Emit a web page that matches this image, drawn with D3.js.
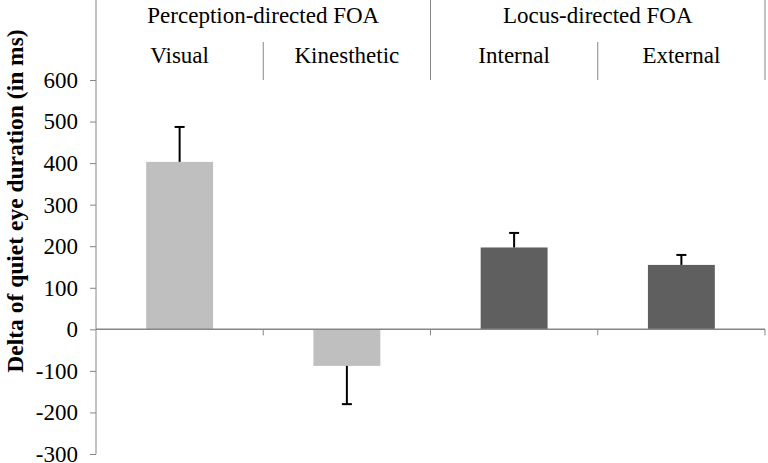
<!DOCTYPE html>
<html>
<head>
<meta charset="utf-8">
<script src="https://cdn.jsdelivr.net/npm/d3@7"></script>
<style>
  body { margin: 0; background: #fff; }
  text { font-family: "Liberation Serif", "Times New Roman", serif; fill: #000; }
</style>
</head>
<body>
<svg></svg>
<script>
// Chart data
const categories = ["Visual", "Kinesthetic", "Internal", "External"];
const groups = ["Perception-directed FOA", "Locus-directed FOA"];
const groupOf = ["Perception-directed FOA", "Perception-directed FOA", "Locus-directed FOA", "Locus-directed FOA"];
const means = [403, -88, 197, 155];
const errors = [84, 92, 35, 24];
const yTicks = [-300, -200, -100, 0, 100, 200, 300, 400, 500, 600];

const width = 768;
const height = 463;
const plot = { left: 96, right: 765, top: 80, bottom: 454 };
const axisColor = "#868686";

const svg = d3.select("svg")
  .attr("width", width)
  .attr("height", height);

// Scales
const y = d3.scaleLinear().domain([-300, 600]).range([plot.bottom, plot.top]);
const cell = d3.scaleBand().domain(categories).range([plot.left, plot.right]).padding(0);
const x = d3.scaleBand().domain(categories).range([plot.left, plot.right]).paddingInner(0.6).paddingOuter(0.3);
const g = d3.scaleBand().domain(groups).range([plot.left, plot.right]).padding(0);
const color = d3.scaleOrdinal().domain(groups).range(["#bfbfbf", "#5f5f5f"]);

// Y axis
const yAxis = svg.append("g")
  .attr("transform", `translate(${plot.left},0)`)
  .attr("font-family", "Liberation Serif")
  .call(d3.axisLeft(y).tickValues(yTicks).tickSize(6).tickPadding(12).tickFormat(d => String(d)));
yAxis.attr("font-family", "Liberation Serif").attr("font-size", 23);
yAxis.select(".domain").remove();
yAxis.selectAll("line").attr("stroke", axisColor);
svg.append("line")
  .attr("x1", plot.left).attr("x2", plot.left)
  .attr("y1", 0).attr("y2", plot.bottom)
  .attr("stroke", axisColor);

// Bars
const data = categories.map((c, i) => ({ c, m: means[i], e: errors[i], grp: groupOf[i] }));
svg.selectAll(".bar")
  .data(data)
  .enter()
  .append("rect")
  .attr("class", "bar")
  .attr("x", d => x(d.c))
  .attr("width", x.bandwidth())
  .attr("y", d => y(Math.max(0, d.m)))
  .attr("height", d => Math.abs(y(d.m) - y(0)))
  .attr("fill", d => color(d.grp));

// Error bars
const err = svg.selectAll(".err")
  .data(data)
  .enter()
  .append("g")
  .attr("class", "err")
  .attr("stroke", "#000")
  .attr("stroke-width", 2);
err.append("line")
  .attr("x1", d => x(d.c) + x.bandwidth() / 2)
  .attr("x2", d => x(d.c) + x.bandwidth() / 2)
  .attr("y1", d => y(d.m))
  .attr("y2", d => y(d.m + Math.sign(d.m) * d.e));
err.append("line")
  .attr("x1", d => x(d.c) + x.bandwidth() / 2 - 5)
  .attr("x2", d => x(d.c) + x.bandwidth() / 2 + 5)
  .attr("y1", d => y(d.m + Math.sign(d.m) * d.e))
  .attr("y2", d => y(d.m + Math.sign(d.m) * d.e));

// X axis at zero
const xAxis = svg.append("g")
  .attr("transform", `translate(0,${y(0)})`);
xAxis.append("line")
  .attr("x1", plot.left).attr("x2", plot.right)
  .attr("stroke", axisColor).attr("stroke-width", 1.5);
xAxis.selectAll(".tick")
  .data(categories)
  .enter()
  .append("line")
  .attr("x1", d => cell(d) + cell.bandwidth())
  .attr("x2", d => cell(d) + cell.bandwidth())
  .attr("y1", 0).attr("y2", 6)
  .attr("stroke", axisColor);

// Header: group labels and dividers
svg.selectAll(".grp-line")
  .data(groups)
  .enter()
  .append("line")
  .attr("x1", d => g(d) + g.bandwidth())
  .attr("x2", d => g(d) + g.bandwidth())
  .attr("y1", 0).attr("y2", plot.top)
  .attr("stroke", axisColor);
svg.selectAll(".grp-label")
  .data(groups)
  .enter()
  .append("text")
  .attr("x", d => g(d) + g.bandwidth() / 2)
  .attr("y", 23)
  .attr("text-anchor", "middle")
  .attr("font-size", 23)
  .text(d => d);

// Sub-category labels and dividers inside each group
svg.selectAll(".cat-line")
  .data(categories.filter((c, i) => i % 2 === 0))
  .enter()
  .append("line")
  .attr("x1", d => cell(d) + cell.bandwidth())
  .attr("x2", d => cell(d) + cell.bandwidth())
  .attr("y1", 42).attr("y2", plot.top)
  .attr("stroke", axisColor);
svg.selectAll(".cat-label")
  .data(categories)
  .enter()
  .append("text")
  .attr("x", d => cell(d) + cell.bandwidth() / 2)
  .attr("y", 63)
  .attr("text-anchor", "middle")
  .attr("font-size", 23)
  .text(d => d);

// Y axis title
svg.append("text")
  .attr("transform", "rotate(-90)")
  .attr("x", -201)
  .attr("y", 23)
  .attr("text-anchor", "middle")
  .attr("font-size", 23.5)
  .attr("font-weight", "bold")
  .text("Delta of quiet eye duration (in ms)");
</script>
</body>
</html>
